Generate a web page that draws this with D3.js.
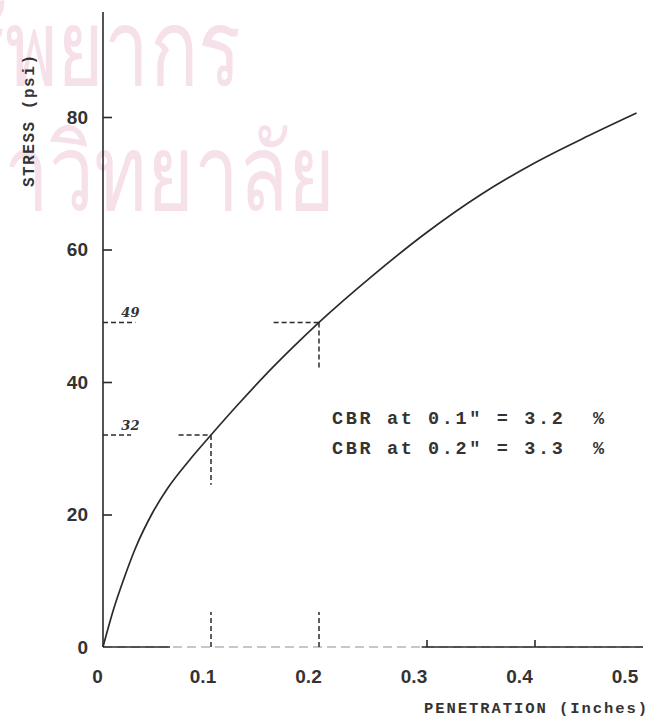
<!DOCTYPE html>
<html>
<head>
<meta charset="utf-8">
<script src="https://cdn.jsdelivr.net/npm/d3@7"></script>
<style>
  body { margin: 0; background: #fff; }
  svg { display: block; }
</style>
</head>
<body>
<svg id="chart" width="657" height="722"></svg>
<script>
// stress-penetration curve
var penetration = [0, 0.01, 0.02, 0.03, 0.046, 0.06, 0.08, 0.1, 0.125, 0.15, 0.175, 0.2, 0.25, 0.3, 0.35, 0.4, 0.45, 0.494];
var stress = [0, 5.8, 10.6, 14.9, 20.3, 24.0, 28.2, 32, 36.6, 41.0, 45.1, 49, 56.1, 62.6, 68.3, 73.1, 77.2, 80.6];

var xTicks = [0, 0.1, 0.2, 0.3, 0.4, 0.5];
var yTicks = [0, 20, 40, 60, 80];
var xTickMarks = [0.3, 0.4];

// CBR reading points: penetration -> stress
var readPen = [0.1, 0.2];
var readStress = [32, 49];
var readLabels = ["32", "49"];

var cbrLines = ['CBR at 0.1" = 3.2  %', 'CBR at 0.2" = 3.3  %'];
var watermark = ["ทรัพยากร", "มหาวิทยาลัย"];

var ink = "#2a2a2a";
var svg = d3.select("#chart");

var x = d3.scaleLinear().domain([0, 0.5]).range([103, 643]);
var y = d3.scaleLinear().domain([0, 80]).range([647, 117]);

// faint watermark behind everything
var wm = svg.append("g")
    .attr("fill", "#f6e1ea")
    .attr("font-family", "'Noto Sans', 'DejaVu Sans', sans-serif")
    .attr("font-size", 92);
wm.append("text")
    .attr("transform", "translate(-91,85) scale(0.87,1.15)")
    .text(watermark[0]);
wm.append("text")
    .attr("transform", "translate(-102,210) scale(0.87,1.15)")
    .text(watermark[1]);

// y axis
svg.append("line")
    .attr("x1", x(0)).attr("x2", x(0))
    .attr("y1", 12).attr("y2", y(0))
    .attr("stroke", ink).attr("stroke-width", 1.6);

var yAxis = d3.axisLeft(y)
    .tickValues(yTicks)
    .tickSizeInner(-9)
    .tickSizeOuter(0)
    .tickPadding(15)
    .tickFormat(d3.format("d"));

var gy = svg.append("g")
    .attr("transform", "translate(" + x(0) + ",0)")
    .call(yAxis);
gy.select(".domain").remove();
gy.selectAll(".tick line").attr("stroke", ink).attr("stroke-width", 1.6)
    .filter(function(d) { return d === 0; }).remove();
gy.selectAll(".tick text")
    .attr("fill", "#333")
    .attr("font-family", "'Liberation Sans', Arial, sans-serif")
    .attr("font-weight", "bold")
    .attr("font-size", 19);

// x axis: faint base, darker where the scan shows a solid line
svg.append("line")
    .attr("x1", x(0)).attr("x2", x(0.5))
    .attr("y1", y(0)).attr("y2", y(0))
    .attr("stroke", "#b5b5b5").attr("stroke-width", 1.4)
    .attr("stroke-dasharray", "9,5");
var solidParts = [[0, 0.062], [0.295, 0.5]];
svg.selectAll(".xsolid").data(solidParts).enter().append("line")
    .attr("x1", function(d) { return x(d[0]); })
    .attr("x2", function(d) { return x(d[1]); })
    .attr("y1", y(0)).attr("y2", y(0))
    .attr("stroke", ink).attr("stroke-width", 1.6);

svg.selectAll(".xtick").data(xTickMarks).enter().append("line")
    .attr("x1", function(d) { return x(d); })
    .attr("x2", function(d) { return x(d); })
    .attr("y1", y(0)).attr("y2", y(0) - 7)
    .attr("stroke", ink).attr("stroke-width", 1.6);

var xAxis = d3.axisBottom(x)
    .tickValues(xTicks)
    .tickSize(0)
    .tickPadding(23)
    .tickFormat(function(d) { return d === 0 ? "0" : d3.format(".1f")(d); });

var gx = svg.append("g")
    .attr("transform", "translate(0," + y(0) + ")")
    .call(xAxis);
gx.select(".domain").remove();
gx.selectAll(".tick text")
    .attr("fill", "#333")
    .attr("dx", function(d, i) { return -6 - i * 2.5; })
    .attr("font-family", "'Liberation Sans', Arial, sans-serif")
    .attr("font-weight", "bold")
    .attr("font-size", 19);

// dashed reading lines
var dash = svg.append("g")
    .attr("stroke", ink).attr("stroke-width", 1.5)
    .attr("stroke-dasharray", "5,3").attr("fill", "none");

readPen.forEach(function(p, i) {
    var s = readStress[i];
    // horizontal stub left of the curve
    dash.append("line")
        .attr("x1", x(p - 0.03 - i * 0.012)).attr("x2", x(p))
        .attr("y1", y(s)).attr("y2", y(s));
    // vertical stub below the curve
    dash.append("line")
        .attr("x1", x(p)).attr("x2", x(p))
        .attr("y1", y(s)).attr("y2", y(s - 7.5 + i * 0.5));
    // stub on the y axis
    dash.append("line")
        .attr("x1", x(0)).attr("x2", x(0.026 + i * 0.004))
        .attr("y1", y(s)).attr("y2", y(s));
    // stub on the x axis
    dash.append("line")
        .attr("x1", x(p)).attr("x2", x(p))
        .attr("y1", y(0)).attr("y2", y(5.3));
    svg.append("text")
        .attr("x", x(0.017)).attr("y", y(s) - 5)
        .attr("fill", "#333")
        .attr("font-family", "'DejaVu Serif', serif")
        .attr("font-style", "italic")
        .attr("font-weight", "bold")
        .attr("font-size", 13)
        .text(readLabels[i]);
});

// the curve
var pts = penetration.map(function(p, i) { return [p, stress[i]]; });
var line = d3.line()
    .x(function(d) { return x(d[0]); })
    .y(function(d) { return y(d[1]); })
    .curve(d3.curveMonotoneX);

svg.append("path")
    .datum(pts)
    .attr("d", line)
    .attr("fill", "none")
    .attr("stroke", ink)
    .attr("stroke-width", 1.7);

// CBR results
svg.selectAll(".cbr").data(cbrLines).enter().append("text")
    .attr("x", 332)
    .attr("y", function(d, i) { return 424 + i * 30; })
    .attr("textLength", 272)
    .attr("lengthAdjust", "spacing")
    .attr("fill", "#333")
    .attr("font-family", "'Liberation Mono', monospace")
    .attr("font-weight", "bold")
    .attr("font-size", 18.5)
    .style("white-space", "pre")
    .text(function(d) { return d; });

// axis titles
svg.append("text")
    .attr("transform", "translate(34,187) rotate(-90)")
    .attr("textLength", 132)
    .attr("lengthAdjust", "spacing")
    .attr("fill", "#333")
    .attr("font-family", "'Liberation Mono', monospace")
    .attr("font-weight", "bold")
    .attr("font-size", 16)
    .text("STRESS (psi)");

svg.append("text")
    .attr("x", 424).attr("y", 713)
    .attr("textLength", 223)
    .attr("lengthAdjust", "spacing")
    .attr("fill", "#333")
    .attr("font-family", "'Liberation Mono', monospace")
    .attr("font-weight", "bold")
    .attr("font-size", 15.5)
    .text("PENETRATION (Inches)");
</script>
</body>
</html>
